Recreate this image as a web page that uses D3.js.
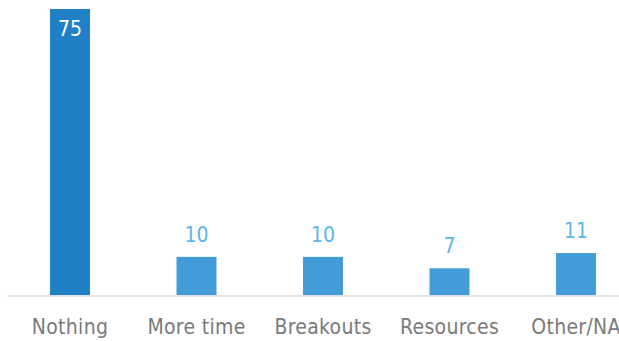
<!DOCTYPE html>
<html>
<head>
<meta charset="utf-8">
<script src="https://cdn.jsdelivr.net/npm/d3@7"></script>
<style>
  html, body { margin: 0; padding: 0; background: #fff; overflow: hidden; }
  svg { display: block; }
  text { font-family: "DejaVu Sans Condensed", "DejaVu Sans", sans-serif; }
</style>
</head>
<body>
<svg id="chart" width="619" height="341"></svg>
<script>
// Survey responses: what would help
const categories = ["Nothing", "More time", "Breakouts", "Resources", "Other/NA"];
const values = [75, 10, 10, 7, 11];

const svg = d3.select("#chart");
const baseY = 295;

const x = d3.scaleBand()
  .domain(categories)
  .range([6.75, 639.25])
  .paddingInner(0.684)
  .paddingOuter(0.342);

const y = d3.scaleLinear()
  .domain([0, 75])
  .range([baseY, 9]);

const darkBlue = "#1f80c6";
const lightBlue = "#439bd7";
const labelBlue = "#5cb6ea";

// Bars
svg.selectAll("rect.bar")
  .data(values)
  .join("rect")
  .attr("class", "bar")
  .attr("x", (d, i) => x(categories[i]))
  .attr("width", x.bandwidth())
  .attr("y", d => y(d))
  .attr("height", d => y(0) - y(d))
  .attr("fill", (d, i) => i === 0 ? darkBlue : lightBlue);

// Baseline axis
const axis = svg.append("g")
  .attr("transform", `translate(0,${baseY + 0.5})`)
  .call(d3.axisBottom(x).tickSize(0).tickPadding(0));
axis.select(".domain").attr("stroke", "#d9d9d9").attr("stroke-width", 1.3);
axis.selectAll(".tick text")
  .attr("y", 38.5)
  .attr("dy", null)
  .attr("fill", "#7a7a7a")
  .style("font-size", "21px")
  .style("letter-spacing", "0.3px")
  .style("font-family", "'DejaVu Sans Condensed', 'DejaVu Sans', sans-serif");

// Value labels: inside the tall bar, above the others
svg.selectAll("text.val")
  .data(values)
  .join("text")
  .attr("class", "val")
  .attr("x", (d, i) => x(categories[i]) + x.bandwidth() / 2)
  .attr("y", (d, i) => i === 0 ? y(d) + 27 : y(d) - 15)
  .attr("text-anchor", "middle")
  .attr("fill", (d, i) => i === 0 ? "#ffffff" : labelBlue)
  .style("font-size", "21px")
  .text(d => d);
</script>
</body>
</html>
